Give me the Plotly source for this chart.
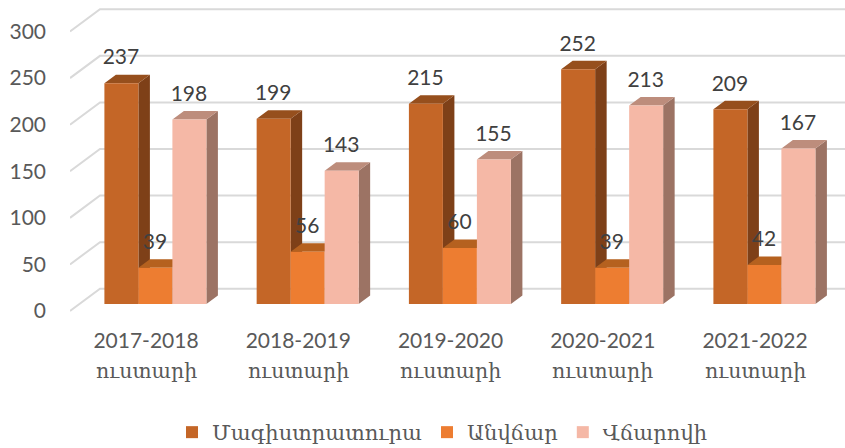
import plotly.graph_objects as go

categories = ["2017-2018", "2018-2019", "2019-2020", "2020-2021", "2021-2022"]
unit_label = "ուստարի"
series_names = ["Մագիստրատուրա", "Անվճար", "Վճարովի"]
magistracy = [237, 199, 215, 252, 209]
free = [39, 56, 60, 39, 42]
paid = [198, 143, 155, 213, 167]
ticks = [0, 50, 100, 150, 200, 250, 300]

series = [magistracy, free, paid]
front = ["#C46627", "#ED7D31", "#F5B8A6"]
top = ["#964F1D", "#B5611F", "#BD8D7C"]
side = ["#7E4018", "#8E4D20", "#9C7364"]

# layout geometry
W, H = 845, 448
L, B = 70, 122
PX_UNIT = 0.9315      # px per value unit
BASE_PX = 304         # bar base pixel
SPACING = 152.25      # px per category
CENTER0 = 155.4       # first group centre, px
y_lo = (BASE_PX - (H - B)) / PX_UNIT
y_hi = BASE_PX / PX_UNIT
x_lo = (L - CENTER0) / SPACING
x_hi = (W - CENTER0) / SPACING
BAR_W = 34 / SPACING
DX = 11.5 / SPACING
DY = 8.5 / PX_UNIT
WALL_FRONT = -7.5
WALL_BACK = 16.4
WALL_DX = 30 / SPACING
LABEL_SHIFT = 9.4 / SPACING
LABEL_RISE = 24 / PX_UNIT

fig = go.Figure()

# wall gridlines
wx, wy = [], []
for t in ticks:
    wx += [x_lo, x_lo + WALL_DX, x_hi, None]
    wy += [t + WALL_FRONT, t + WALL_BACK, t + WALL_BACK, None]
fig.add_trace(go.Scatter(x=wx, y=wy, mode="lines", line=dict(color="#D9D9D9", width=2),
                         showlegend=False, hoverinfo="skip", xaxis="x", yaxis="y"))

# side and top faces, computed from the values
for k, vals in enumerate(series):
    sx, sy, tx, ty = [], [], [], []
    for i, v in enumerate(vals):
        left = i + (k - 1.5) * BAR_W
        right = left + BAR_W
        sx += [right, right + DX, right + DX, right, right, None]
        sy += [0, DY, v + DY, v, 0, None]
        tx += [left, left + DX, right + DX, right, left, None]
        ty += [v, v + DY, v + DY, v, v, None]
    fig.add_trace(go.Scatter(x=sx, y=sy, mode="lines", fill="toself", fillcolor=side[k],
                             line=dict(width=0, color=side[k]), showlegend=False, hoverinfo="skip",
                             xaxis="x", yaxis="y"))
    fig.add_trace(go.Scatter(x=tx, y=ty, mode="lines", fill="toself", fillcolor=top[k],
                             line=dict(width=0, color=top[k]), showlegend=False, hoverinfo="skip",
                             xaxis="x", yaxis="y"))

# front faces on an overlaying axis so they cover the faces behind
for k, vals in enumerate(series):
    fig.add_trace(go.Bar(x=list(range(len(categories))), y=vals, name=series_names[k],
                         marker=dict(color=front[k], line=dict(width=0)),
                         xaxis="x", yaxis="y2"))

# value labels
lx, ly, lt = [], [], []
for k, vals in enumerate(series):
    for i, v in enumerate(vals):
        lx.append(i + (k - 1) * BAR_W - 0.5 / SPACING)
        ly.append(v + LABEL_RISE)
        lt.append(str(v))
fig.add_trace(go.Scatter(x=lx, y=ly, text=lt, mode="text", textposition="middle center",
                         textfont=dict(size=21, color="#404040", family="Lato"),
                         showlegend=False, hoverinfo="skip", xaxis="x", yaxis="y2"))

# second line of the category labels
annotations = [dict(x=i - LABEL_SHIFT, xref="x", y=(H - B - 371) / (H - B), yref="paper",
                    text=unit_label, showarrow=False, xanchor="center", yanchor="middle",
                    font=dict(size=20.5, color="#595959", family="DejaVu Serif"))
               for i in range(len(categories))]

fig.update_layout(
    width=W, height=H, autosize=False,
    margin=dict(l=L, r=0, t=0, b=B, autoexpand=False),
    paper_bgcolor="white", plot_bgcolor="white",
    barmode="group", bargap=1 - 3 * BAR_W, bargroupgap=0,
    font=dict(family="Lato, 'DejaVu Serif'", color="#595959"),
    xaxis=dict(range=[x_lo, x_hi], showgrid=False, zeroline=False, showline=False,
               tickmode="array", tickvals=[i - LABEL_SHIFT for i in range(len(categories))],
               ticktext=categories, tickfont=dict(size=21, color="#595959"), ticks="", ticklen=0),
    yaxis=dict(range=[y_lo, y_hi], showgrid=False, zeroline=False, showline=False,
               tickmode="array", tickvals=[t + WALL_FRONT for t in ticks], ticktext=[str(t) for t in ticks],
               tickfont=dict(size=21, color="#595959"), ticks="", ticklabelstandoff=23),
    yaxis2=dict(range=[y_lo, y_hi], overlaying="y", showgrid=False, zeroline=False,
                showline=False, showticklabels=False),
    legend=dict(orientation="h", x=(172 - L) / (W - L), xanchor="left", y=(H - B - 412) / (H - B), yanchor="top",
                font=dict(size=21, color="#595959", family="DejaVu Serif"),
                itemsizing="constant", traceorder="normal", bgcolor="rgba(0,0,0,0)"),
    annotations=annotations,
    showlegend=True,
)

fig.write_html("out.html", config=dict(displayModeBar=False),
               post_script="document.body.style.margin='0';document.body.style.overflow='hidden';")
